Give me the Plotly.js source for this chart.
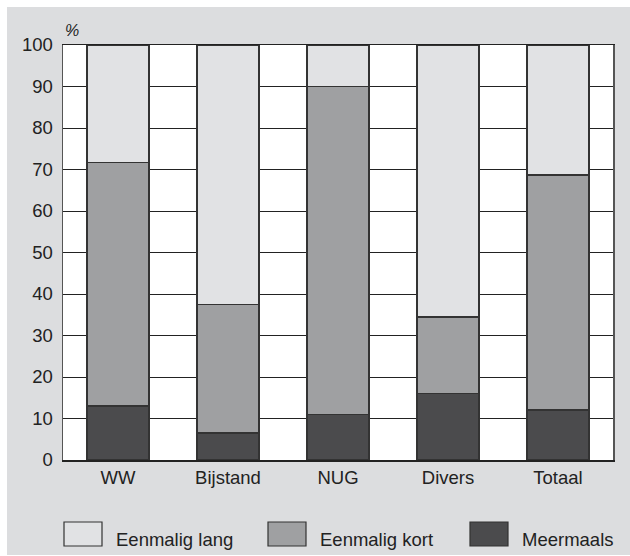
<!DOCTYPE html>
<html>
<head>
<meta charset="utf-8">
<script src="https://cdn.plot.ly/plotly-3.0.1.min.js"></script>
<style>
  html, body { margin: 0; padding: 0; background: #ffffff; }
  #chart { position: absolute; left: 7px; top: 7px; width: 623px; height: 548px; }
</style>
</head>
<body>
<div id="chart"></div>
<script>
const categories = ["WW", "Bijstand", "NUG", "Divers", "Totaal"];
const seriesNames = ["Eenmalig lang", "Eenmalig kort", "Meermaals"];
const meermaals = [13, 6.5, 11, 16, 12];
const eenmaligKort = [58.7, 31, 79, 18.5, 56.7];
const eenmaligLang = [28.3, 62.5, 10, 65.5, 31.3];
const yTicks = [0, 10, 20, 30, 40, 50, 60, 70, 80, 90, 100];

const colLang = "#e1e2e4";
const colKort = "#9fa0a2";
const colMeer = "#4b4b4d";
const outline = { color: "#333333", width: 1.5 };
const FONT = "Liberation Sans";

const traces = [
  { type: "bar", name: seriesNames[2], x: categories, y: meermaals,
    marker: { color: colMeer, line: outline }, hoverinfo: "y" },
  { type: "bar", name: seriesNames[1], x: categories, y: eenmaligKort,
    marker: { color: colKort, line: outline }, hoverinfo: "y" },
  { type: "bar", name: seriesNames[0], x: categories, y: eenmaligLang,
    marker: { color: colLang, line: outline }, hoverinfo: "y" }
];

// plot area in div pixels
const L = 56, T = 38, W = 550, H = 415;
const px = x => (x - L) / W;
const py = y => (T + H - y) / H;

const legendItems = [
  { name: seriesNames[0], color: colLang, bx: 57, tx: 107 },
  { name: seriesNames[1], color: colKort, bx: 261, tx: 311 },
  { name: seriesNames[2], color: colMeer, bx: 463, tx: 513 }
];
const shapes = legendItems.map(it => ({
  type: "rect", xref: "paper", yref: "paper",
  x0: px(it.bx), x1: px(it.bx + 38), y0: py(515), y1: py(539),
  fillcolor: it.color, line: { color: "#333333", width: 1.2 }
}));
const annotations = legendItems.map(it => ({
  xref: "paper", yref: "paper", x: px(it.tx), y: py(532),
  xanchor: "left", yanchor: "middle", showarrow: false,
  text: it.name, font: { family: FONT, size: 18.5, color: "#222222" }
}));
annotations.push({
  xref: "paper", yref: "paper", x: px(56), y: py(23),
  xanchor: "left", yanchor: "middle", showarrow: false,
  text: "<i>%</i>", font: { family: FONT, size: 16, color: "#222222" }
});

const layout = {
  width: 623, height: 548,
  margin: { l: L, r: 623 - L - W, t: T, b: 548 - T - H, pad: 0 },
  paper_bgcolor: "#dcdddf",
  plot_bgcolor: "#ffffff",
  barmode: "stack",
  bargap: 0.436,
  showlegend: false,
  font: { family: FONT, size: 18.5, color: "#222222" },
  xaxis: {
    type: "category",
    showgrid: false,
    showline: true, linecolor: "#222222", linewidth: 1.5, mirror: true,
    ticks: "", ticklabelstandoff: 0,
    tickfont: { family: FONT, size: 18.5, color: "#222222" },
    fixedrange: true
  },
  yaxis: {
    range: [0, 100],
    tickvals: yTicks,
    ticktext: yTicks.map(String),
    showgrid: true, gridcolor: "#222222", gridwidth: 1,
    zeroline: false,
    showline: true, linecolor: "#555555", linewidth: 1.5, mirror: true,
    ticks: "", ticklabelstandoff: 5,
    tickfont: { family: FONT, size: 18.5, color: "#222222" },
    fixedrange: true
  },
  shapes: shapes,
  annotations: annotations
};

Plotly.newPlot("chart", traces, layout, { staticPlot: true, displayModeBar: false });
</script>
</body>
</html>
